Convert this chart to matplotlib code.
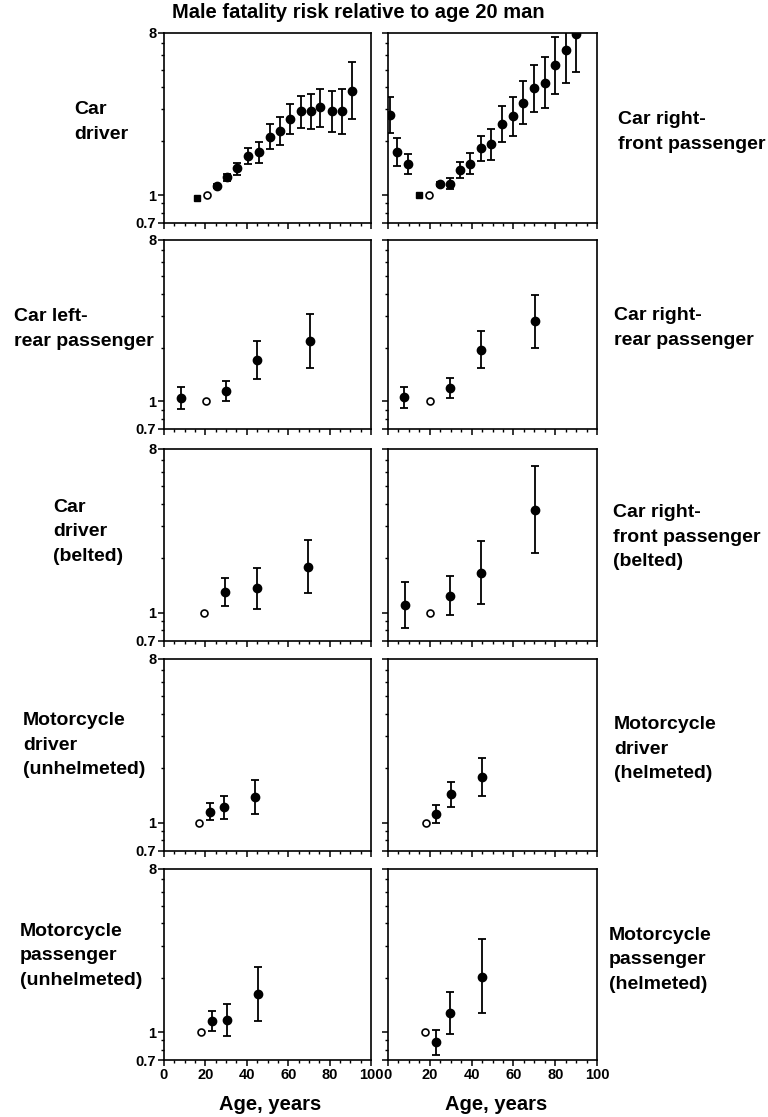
import numpy as np
import matplotlib.pyplot as plt
from matplotlib.ticker import FixedLocator, FixedFormatter, NullFormatter

plt.rcParams['font.family'] = ['Liberation Sans', 'DejaVu Sans']
plt.rcParams['font.weight'] = 'bold'

# ---- data (risk relative to age 20 man, log scale) ----
# row 1: car driver / car right-front passenger
cd_age = np.array([25.5, 30.5, 35.5, 40.5, 46, 51, 56, 61, 66, 71, 75.5, 81, 86, 91])
cd_val = np.array([1.13, 1.27, 1.41, 1.66, 1.75, 2.12, 2.28, 2.66, 2.95, 2.95, 3.09, 2.95, 2.95, 3.78])
cd_lo = np.array([1.10, 1.20, 1.29, 1.49, 1.52, 1.81, 1.90, 2.18, 2.36, 2.35, 2.41, 2.26, 2.19, 2.66])
cd_hi = np.array([1.16, 1.32, 1.52, 1.84, 1.99, 2.48, 2.72, 3.21, 3.57, 3.68, 3.91, 3.80, 3.91, 5.49])
cd_ref = 21
cd_sq_age, cd_sq_val = 16, 0.97

rf_age = np.array([1, 4.5, 9.6, 24.7, 29.5, 34.3, 39.3, 44.4, 49.5, 54.5, 59.6, 64.7, 69.7, 75, 80, 85, 90])
rf_val = np.array([2.80, 1.75, 1.50, 1.15, 1.16, 1.38, 1.50, 1.82, 1.92, 2.49, 2.76, 3.24, 3.94, 4.24, 5.28, 6.40, 7.9])
rf_lo = np.array([2.21, 1.46, 1.32, 1.12, 1.08, 1.25, 1.31, 1.55, 1.58, 1.99, 2.14, 2.48, 2.90, 3.05, 3.65, 4.20, 4.83])
rf_hi = np.array([3.54, 2.09, 1.69, 1.19, 1.24, 1.54, 1.71, 2.14, 2.34, 3.14, 3.54, 4.30, 5.32, 5.88, 7.60, 8.5, 9.5])
rf_ref = 19.5
rf_sq_age, rf_sq_val = 15, 1.0

# row 2: rear passengers
lr_age = np.array([8, 30, 45, 70.3])
lr_val = np.array([1.044, 1.147, 1.71, 2.18])
lr_lo = np.array([0.91, 1.0, 1.33, 1.53])
lr_hi = np.array([1.198, 1.30, 2.19, 3.09])
lr_ref = 20.3

rr_age = np.array([7.8, 29.6, 44.7, 70.1])
rr_val = np.array([1.057, 1.188, 1.946, 2.83])
rr_lo = np.array([0.914, 1.044, 1.536, 2.0])
rr_hi = np.array([1.21, 1.35, 2.46, 3.95])
rr_ref = 20

# row 3: belted
db_age = np.array([29.6, 44.7, 69.8])
db_val = np.array([1.30, 1.369, 1.796])
db_lo = np.array([1.098, 1.057, 1.29])
db_hi = np.array([1.548, 1.77, 2.51])
db_ref = 19.5

fb_age = np.array([8, 29.9, 44.7, 70.1])
fb_val = np.array([1.11, 1.24, 1.664, 3.69])
fb_lo = np.array([0.826, 0.97, 1.121, 2.13])
fb_hi = np.array([1.48, 1.594, 2.48, 6.45])
fb_ref = 20

# row 4: motorcycle drivers
mdu_age = np.array([22, 29.1, 44.1])
mdu_val = np.array([1.15, 1.226, 1.386])
mdu_lo = np.array([1.034, 1.056, 1.121])
mdu_hi = np.array([1.28, 1.41, 1.714])
mdu_ref = 17.1

mdh_age = np.array([23, 30, 45])
mdh_val = np.array([1.116, 1.446, 1.78])
mdh_lo = np.array([1.0, 1.231, 1.415])
mdh_hi = np.array([1.25, 1.684, 2.27])
mdh_ref = 18.2

# row 5: motorcycle passengers
mpu_age = np.array([23, 30.3, 45.3])
mpu_val = np.array([1.148, 1.173, 1.62])
mpu_lo = np.array([1.009, 0.954, 1.148])
mpu_hi = np.array([1.306, 1.436, 2.29])
mpu_ref = 17.8

mph_age = np.array([22.9, 29.8, 44.9])
mph_val = np.array([0.879, 1.278, 2.03])
mph_lo = np.array([0.746, 0.979, 1.278])
mph_hi = np.array([1.022, 1.676, 3.27])
mph_ref = 17.8

left_labels = ['Car\ndriver', 'Car left-\nrear passenger', 'Car\ndriver\n(belted)',
               'Motorcycle\ndriver\n(unhelmeted)', 'Motorcycle\npassenger\n(unhelmeted)']
right_labels = ['Car right-\nfront passenger', 'Car right-\nrear passenger',
                'Car right-\nfront passenger\n(belted)', 'Motorcycle\ndriver\n(helmeted)',
                'Motorcycle\npassenger\n(helmeted)']

W, H = 768, 1117
fig = plt.figure(figsize=(W / 100, H / 100), dpi=100)

rows = [(33, 223), (240, 429), (449, 641), (659, 851), (869, 1060)]
cols = [(164, 371), (388, 597)]
left_lab_pos = [(74, 122), (14, 329), (53, 532), (23, 745), (20, 956)]
right_lab_pos = [(618, 132), (614, 328), (613, 537), (614, 749), (609, 960)]


def panel(ax, age, val, lo, hi, ref, sq=None, show_y=True, show_x=False):
    ax.set_yscale('log')
    ax.errorbar(age, val, yerr=[val - lo, hi - val], fmt='o', color='black', ms=6,
                elinewidth=1.3, capsize=2.6, capthick=1.3)
    ax.plot([ref], [1.0], 'o', mfc='white', mec='black', ms=5, mew=1.2)
    if sq is not None:
        ax.plot([sq[0]], [sq[1]], 's', color='black', ms=5)
    ax.set_xlim(0, 100)
    ax.set_ylim(0.7, 8)
    ax.yaxis.set_major_locator(FixedLocator([0.7, 1, 8]))
    ax.yaxis.set_minor_locator(FixedLocator([0.8, 0.9, 2, 3, 4, 5, 6, 7]))
    ax.yaxis.set_minor_formatter(NullFormatter())
    ax.xaxis.set_major_locator(FixedLocator(range(0, 101, 20)))
    ax.xaxis.set_minor_locator(FixedLocator(range(0, 101, 5)))
    if show_y:
        ax.yaxis.set_major_formatter(FixedFormatter(['0.7', '1', '8']))
    else:
        ax.yaxis.set_major_formatter(NullFormatter())
    if not show_x:
        ax.xaxis.set_major_formatter(NullFormatter())
    ax.tick_params(which='major', direction='out', length=4, width=1.1, labelsize=10.5, pad=1.5)
    ax.tick_params(which='minor', direction='out', length=2.3, width=1.0)
    for s in ax.spines.values():
        s.set_linewidth(1.2)


panels = [
    [(cd_age, cd_val, cd_lo, cd_hi, cd_ref, (cd_sq_age, cd_sq_val)),
     (rf_age, rf_val, rf_lo, rf_hi, rf_ref, (rf_sq_age, rf_sq_val))],
    [(lr_age, lr_val, lr_lo, lr_hi, lr_ref, None), (rr_age, rr_val, rr_lo, rr_hi, rr_ref, None)],
    [(db_age, db_val, db_lo, db_hi, db_ref, None), (fb_age, fb_val, fb_lo, fb_hi, fb_ref, None)],
    [(mdu_age, mdu_val, mdu_lo, mdu_hi, mdu_ref, None), (mdh_age, mdh_val, mdh_lo, mdh_hi, mdh_ref, None)],
    [(mpu_age, mpu_val, mpu_lo, mpu_hi, mpu_ref, None), (mph_age, mph_val, mph_lo, mph_hi, mph_ref, None)],
]

for i, (t, b) in enumerate(rows):
    for j, (l, r) in enumerate(cols):
        ax = fig.add_axes([l / W, 1 - b / H, (r - l) / W, (b - t) / H])
        age, val, lo, hi, ref, sq = panels[i][j]
        panel(ax, age, val, lo, hi, ref, sq, show_y=(j == 0), show_x=(i == len(rows) - 1))

for lab, (x, y) in zip(left_labels, left_lab_pos):
    fig.text(x / W, 1 - y / H, lab, ha='left', va='center', fontsize=14, linespacing=1.6)
for lab, (x, y) in zip(right_labels, right_lab_pos):
    fig.text(x / W, 1 - y / H, lab, ha='left', va='center', fontsize=14, linespacing=1.6)

fig.text(358 / W, 1 - 13 / H, 'Male fatality risk relative to age 20 man',
         ha='center', va='center', fontsize=14.5)
fig.text(270 / W, 1 - 1105 / H, 'Age, years', ha='center', va='center', fontsize=14.5)
fig.text(496 / W, 1 - 1105 / H, 'Age, years', ha='center', va='center', fontsize=14.5)

fig.savefig('out.png', dpi=100)
